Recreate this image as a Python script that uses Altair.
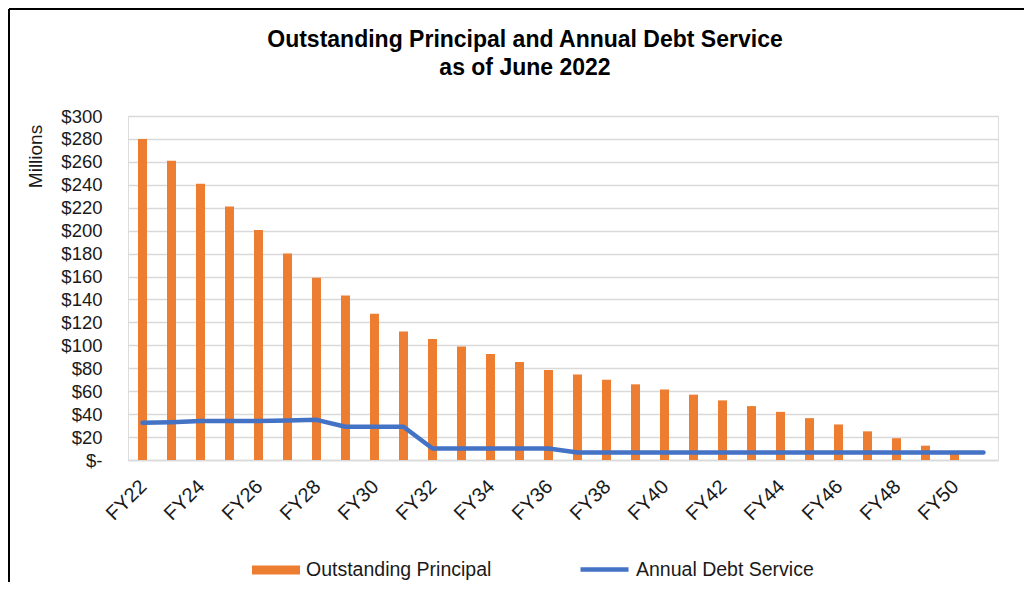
import altair as alt
import pandas as pd

years = [f"FY{y}" for y in range(22, 52)]
principal = [280, 261, 241, 221, 200.5, 180, 159, 143.5, 127.5, 112,
             105.5, 99, 92.5, 85.5, 78.5, 74.5, 70, 66, 61.5, 57,
             52, 47, 42, 36.5, 31, 25, 19, 12.5, 6, 0]
debt_service = [32.5, 33, 34, 34, 34, 34.5, 35, 29, 29, 29,
                10, 10, 10, 10, 10, 6.5, 6.5, 6.5, 6.5, 6.5,
                6.5, 6.5, 6.5, 6.5, 6.5, 6.5, 6.5, 6.5, 6.5, 6.5]
series_names = ["Outstanding Principal", "Annual Debt Service"]
series_colors = ["#ED7D31", "#4472C4"]
y_ticks = list(range(0, 301, 20))
x_label_values = years[::2]

rows = []
for c, p, d in zip(years, principal, debt_service):
    rows.append({"cat": c, "series": series_names[0], "value": p})
    rows.append({"cat": c, "series": series_names[1], "value": d})
df = pd.DataFrame(rows)

FONT = "Liberation Sans"

x_enc = alt.X(
    "cat:N", sort=years, title=None,
    scale=alt.Scale(paddingInner=0.69, paddingOuter=0.345),
    axis=alt.Axis(values=x_label_values, labelAngle=-45, ticks=False,
                  labelPadding=16, labelOffset=-6, labelFontSize=20,
                  labelColor="#1a1a1a", labelOverlap=False,
                  domainColor="#d9d9d9", domainWidth=1.5, labelFont=FONT),
)
y_enc = alt.Y(
    "value:Q", title="Millions",
    scale=alt.Scale(domain=[0, 300], nice=False),
    axis=alt.Axis(values=y_ticks, ticks=False, domain=False,
                  labelExpr="datum.value == 0 ? '$-' : '$' + datum.value",
                  labelOverlap=False, labelFlush=False,
                  labelPadding=26, labelFontSize=18.5, labelColor="#1a1a1a",
                  gridColor="#d9d9d9", gridWidth=1.5, labelFont=FONT,
                  titleFont=FONT, titleFontSize=19, titleFontWeight="normal",
                  titleColor="#1a1a1a", titleX=-93, titleY=40, titleAngle=-90,
                  titleAlign="center", titleBaseline="middle"),
)

fill_legend = alt.Legend(
    title=None, orient="none", legendX=124, legendY=430, direction="horizontal",
    symbolType="M-1,-0.19H1V0.19H-1Z", symbolSize=2304, symbolStrokeWidth=0,
    symbolOpacity=1, labelFontSize=19.5, labelFont=FONT, labelColor="#1a1a1a",
    labelOffset=6, labelLimit=0, padding=0,
)
stroke_legend = alt.Legend(
    title=None, orient="none", legendX=450, legendY=427, direction="horizontal",
    symbolType="stroke", symbolSize=2304, symbolStrokeWidth=4.5,
    symbolOpacity=1, labelFontSize=19.5, labelFont=FONT, labelColor="#1a1a1a",
    labelOffset=5, labelLimit=0, padding=0,
)

base = alt.Chart(df)
bars = base.transform_filter(alt.datum.series == series_names[0]).mark_bar().encode(
    x=x_enc, y=y_enc,
    fill=alt.Fill("series:N", scale=alt.Scale(domain=[series_names[0]], range=[series_colors[0]]),
                  legend=fill_legend))
line = base.transform_filter(alt.datum.series == series_names[1]).mark_line(
    strokeWidth=4.5, strokeCap="round", strokeJoin="round").encode(
    x=x_enc, y=y_enc,
    stroke=alt.Stroke("series:N", scale=alt.Scale(domain=[series_names[1]], range=[series_colors[1]]),
                      legend=stroke_legend))

frame_top = alt.Chart(df).mark_rule(color="#000000", strokeWidth=2).encode(
    x=alt.value(-119), x2=alt.value(896), y=alt.value(-107))
frame_left = alt.Chart(df).mark_rule(color="#000000", strokeWidth=2).encode(
    x=alt.value(-119), y=alt.value(-107), y2=alt.value(466))

chart = alt.layer(bars, line, frame_top, frame_left).resolve_scale(
    fill="independent", stroke="independent"
).properties(
    width=870, height=344,
    padding=0,
    title=alt.TitleParams(
        text=["Outstanding Principal and Annual Debt Service", "as of June 2022"],
        font=FONT, fontSize=23, fontWeight="bold", color="#000000",
        frame="group", anchor="middle", dx=-38, offset=-72, lineHeight=28,
    ),
).configure_view(stroke=None).configure(font=FONT)

chart.save("out.html", embed_options={"renderer": "svg", "actions": False})
